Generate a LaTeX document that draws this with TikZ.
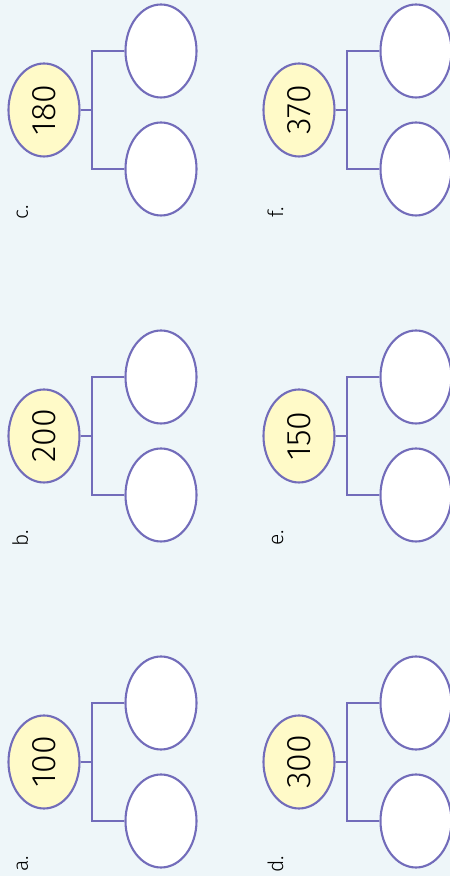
\documentclass[tikz,border=0pt]{standalone}
\usepackage{fontspec}
\setmainfont{Fira Sans}[UprightFont={* Light}]
\usetikzlibrary{shapes.geometric}
\definecolor{bgc}{RGB}{238,246,249}
\definecolor{linec}{RGB}{114,108,186}
\definecolor{yel}{RGB}{255,250,200}
\tikzset{
  yellowoval/.style={ellipse, draw=linec, line width=2.1pt, fill=yel, rotate=90,
    minimum width=93pt, minimum height=71pt, inner sep=0pt,
    font=\fontsize{34}{34}\selectfont},
  whiteoval/.style={ellipse, draw=linec, line width=2.1pt, fill=white,
    minimum width=71pt, minimum height=93pt, inner sep=0pt},
  bracket/.style={draw=linec, line width=2.1pt},
  letterlabel/.style={rotate=90, anchor=base, inner sep=0pt,
    font=\fontsize{21}{21}\selectfont}
}
\begin{document}
\begin{tikzpicture}[x=1pt,y=1pt]
\useasboundingbox (0,0) rectangle (450,876);
\fill[bgc] (0,0) rectangle (450,876);
\foreach \n/\x/\py/\v in {a/44/762/100, b/44/436/200, c/44/110/180,
                         d/299/762/300, e/299/436/150, f/299/110/370}{
  \node[yellowoval] (\n y) at ({\x},{876-\py}) {\v};
  \node[whiteoval] (\n t) at ({\x+117},{876-\py+59}) {};
  \node[whiteoval] (\n b) at ({\x+117},{876-\py-59}) {};
  \coordinate (\n j) at ({\x+48},{876-\py});
  \draw[bracket] (\n y.south) -- (\n j);
  \draw[bracket] (\n t.west) -| (\n j) |- (\n b.west);
  \node[letterlabel] (\n l) at ({\x-16},{876-\py-102}) {\n.};
}
\end{tikzpicture}
\end{document}
